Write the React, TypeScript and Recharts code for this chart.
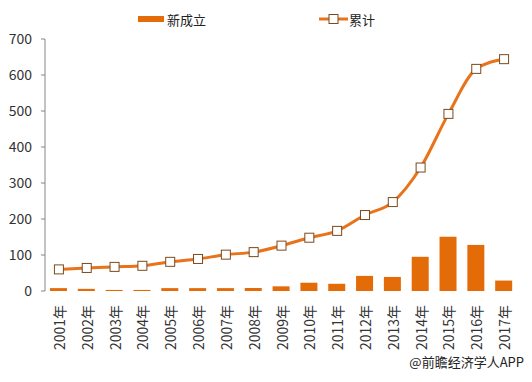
import React from "react";
import { ComposedChart, Bar, Line, XAxis, YAxis } from "recharts";

const years = ["2001年","2002年","2003年","2004年","2005年","2006年","2007年","2008年","2009年","2010年","2011年","2012年","2013年","2014年","2015年","2016年","2017年"];
const newlyFounded = [8, 6, 3, 3, 8, 8, 8, 8, 13, 23, 20, 42, 39, 95, 151, 128, 29];
const cumulative = [60, 64, 67, 70, 81, 89, 101, 108, 126, 148, 167, 211, 247, 343, 492, 617, 644];
const yTicks = [0, 100, 200, 300, 400, 500, 600, 700];
const boundaryTicks = [0, 1, 2, 3, 4, 5, 6, 7, 8, 9, 10, 11, 12, 13, 14, 15, 16, 17];

const data = years.map((y, i) => ({ year: y, idx: i + 0.5, n: newlyFounded[i], c: cumulative[i] }));

const BAR = "#E36C09";
const LINE = "#E8731A";
const MARK = "#7A4A1E";
const AXIS = "#868686";
const FONT = "'Noto Sans CJK SC', 'Microsoft YaHei', sans-serif";

const SquareDot = (props: any) => {
  const { cx, cy } = props;
  if (cx == null || cy == null) return null;
  return <rect x={cx - 4.5} y={cy - 4.5} width={9} height={9} fill="#fff" stroke={MARK} strokeWidth={1} />;
};

const XTick = (props: any) => {
  const { x, y, payload } = props;
  return (
    <text x={x} y={y} transform={`rotate(-90, ${x}, ${y})`} textAnchor="end" dominantBaseline="central" fontSize={14} fill="#333" fontFamily={FONT}>
      {payload.value}
    </text>
  );
};

export default function App() {
  return (
    <div style={{ position: "absolute", left: 0, top: 0, width: 532, height: 382, background: "#fff", fontFamily: FONT }}>
      <ComposedChart width={532} height={382} data={data} margin={{ top: 39, right: 14, left: 0, bottom: 0 }}>
        <XAxis xAxisId="b" type="number" dataKey="idx" domain={[0, 17]} ticks={boundaryTicks} allowDataOverflow height={0}
          stroke={AXIS} tickSize={5} tickFormatter={() => ""} tick={{ fontSize: 0 }} />
        <XAxis xAxisId="a" dataKey="year" height={91} axisLine={false} tickLine={false} interval={0} tick={<XTick />} tickMargin={8} />
        <YAxis domain={[0, 700]} ticks={yTicks} width={45} stroke={AXIS} tickSize={4} tickMargin={9}
          tick={{ fontSize: 14, fill: "#333", fontFamily: FONT }} />
        <Bar xAxisId="a" dataKey="n" fill={BAR} barSize={17} isAnimationActive={false} />
        <Line xAxisId="a" type="monotone" dataKey="c" stroke={LINE} strokeWidth={3} dot={<SquareDot />} activeDot={false} isAnimationActive={false} />
      </ComposedChart>
      <div style={{ position: "absolute", left: 138, top: 10, display: "flex", alignItems: "center", fontSize: 13, color: "#222", height: 18 }}>
        <div style={{ width: 26, height: 6, background: BAR, marginRight: 3 }} />
        <span>新成立</span>
      </div>
      <div style={{ position: "absolute", left: 319, top: 10, display: "flex", alignItems: "center", fontSize: 13, color: "#222", height: 18 }}>
        <svg width={29} height={12} style={{ marginRight: 1 }}>
          <line x1={0} y1={6} x2={29} y2={6} stroke={LINE} strokeWidth={3} />
          <rect x={10} y={1.5} width={9} height={9} fill="#fff" stroke={MARK} strokeWidth={1} />
        </svg>
        <span>累计</span>
      </div>
      <div style={{ position: "absolute", right: 8, top: 352, fontSize: 13, color: "#222" }}>@前瞻经济学人APP</div>
    </div>
  );
}
